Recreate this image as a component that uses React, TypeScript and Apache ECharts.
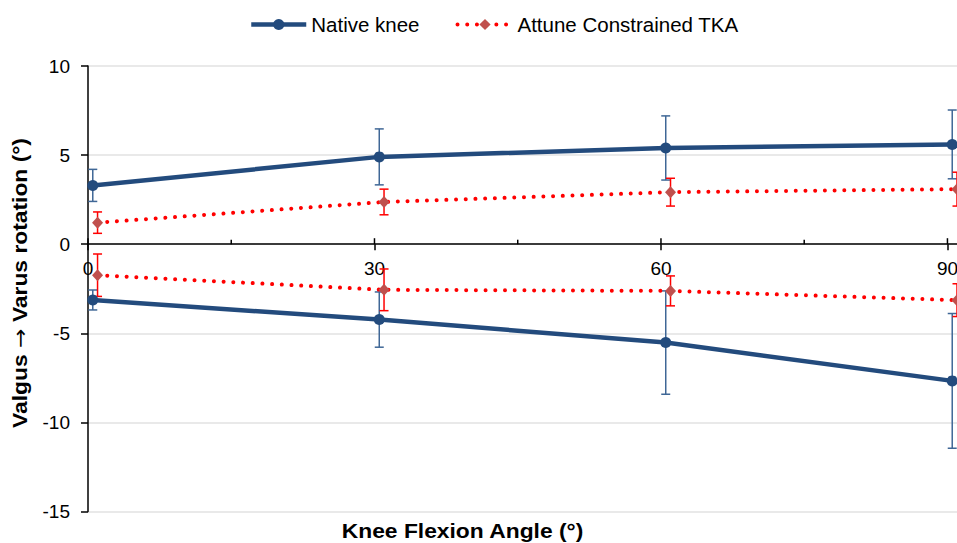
import React, { useEffect, useRef } from "react";
import * as echarts from "echarts";

// ---- data ----
const flexionLabels = [0, 30, 60, 90];
const xTickMarks = [0, 15, 30, 45, 60, 75, 90];
const majorTicks = [0, 30, 60, 90];

const nativeX = [0.5, 30.5, 60.5, 90.5];
const nativeVarus = [3.3, 4.9, 5.4, 5.6];
const nativeVarusSD = [0.9, 1.57, 1.8, 1.93];
const nativeValgus = [-3.13, -4.23, -5.52, -7.67];
const nativeValgusSD = [0.56, 1.55, 2.9, 3.78];

const attuneX = [1, 31, 61, 91];
const attuneVarus = [1.21, 2.37, 2.92, 3.09];
const attuneVarusSD = [0.6, 0.72, 0.78, 0.95];
const attuneValgus = [-1.74, -2.56, -2.62, -3.14];
const attuneValgusSD = [1.19, 1.17, 0.84, 0.92];

const Y_MIN = -15;
const Y_MAX = 10;
const X_MAX = 91;

const NATIVE = "Native knee";
const ATTUNE = "Attune Constrained TKA";

const NAVY = "#234b7d";
const NAVY_ERR = "#3f6796";
const RED = "#ff0000";
const DIAMOND = "#c0504d";
const FONT = "'Liberation Sans', Arial, Helvetica, sans-serif";

const W = 957;
const H = 543;
const GRID_TOP = 66;
const GRID_BOTTOM = 31.5;

function pairs(xs: number[], ys: number[]) {
  return xs.map((x, i) => [x, ys[i]]);
}

function errorSeries(name: string, xs: number[], ys: number[], sds: number[], color: string) {
  return {
    type: "custom",
    name,
    z: 1,
    silent: true,
    clip: false,
    data: xs.map((x, i) => [x, ys[i], sds[i]]),
    encode: { x: 0, y: 1 },
    renderItem: (params: any, api: any) => {
      const x = api.value(0);
      const y = api.value(1);
      const sd = api.value(2);
      const top = api.coord([x, y + sd]);
      const bot = api.coord([x, y - sd]);
      const hw = 4.5;
      const style = { stroke: color, lineWidth: 1.5, fill: null };
      return {
        type: "group",
        children: [
          { type: "line", shape: { x1: top[0], y1: top[1], x2: bot[0], y2: bot[1] }, style },
          { type: "line", shape: { x1: top[0] - hw, y1: top[1], x2: top[0] + hw, y2: top[1] }, style },
          { type: "line", shape: { x1: bot[0] - hw, y1: bot[1], x2: bot[0] + hw, y2: bot[1] }, style },
        ],
      };
    },
  };
}

function nativeLine(data: number[][]) {
  return {
    name: NATIVE,
    type: "line",
    data,
    z: 3,
    clip: false,
    symbol: "circle",
    symbolSize: 11,
    itemStyle: { color: NAVY },
    lineStyle: { color: NAVY, width: 4.5 },
  };
}

function attuneLine(data: number[][]) {
  return {
    name: ATTUNE,
    type: "line",
    data,
    z: 3,
    clip: false,
    symbol: "diamond",
    symbolSize: [11, 12],
    itemStyle: { color: DIAMOND },
    lineStyle: { color: RED, width: 4, type: [0.01, 9.7], cap: "round" },
  };
}

export default function App() {
  const ref = useRef<HTMLDivElement>(null);

  useEffect(() => {
    if (!ref.current) return;
    const chart = echarts.init(ref.current, null, { renderer: "svg" });
    const gridH = H - GRID_TOP - GRID_BOTTOM;
    const zeroOffset = -(gridH * (0 - Y_MIN)) / (Y_MAX - Y_MIN);
    const option: any = {
      animation: false,
      backgroundColor: "#ffffff",
      textStyle: { fontFamily: FONT },
      grid: {
        left: 88,
        right: 0,
        top: GRID_TOP,
        bottom: GRID_BOTTOM,
        containLabel: false,
        outerBoundsMode: "none",
      },
      legend: {
        data: [NATIVE, ATTUNE],
        left: 249,
        top: 14,
        padding: 0,
        itemWidth: 55,
        itemHeight: 14,
        itemGap: 36,
        lineStyle: { width: "inherit" },
        textStyle: { fontSize: 20.5, color: "#000", fontFamily: FONT },
        selectedMode: false,
      },
      xAxis: {
        type: "value",
        min: 0,
        max: X_MAX,
        interval: 30,
        position: "bottom",
        offset: zeroOffset,
        axisLine: { show: true, onZero: false, lineStyle: { color: "#000", width: 1.5 } },
        axisTick: {
          show: true,
          customValues: majorTicks,
          inside: false,
          length: 6,
          lineStyle: { color: "#000", width: 1.5 },
        },
        axisLabel: {
          customValues: flexionLabels,
          fontSize: 19,
          color: "#000",
          margin: 15,
          fontFamily: FONT,
        },
        splitLine: { show: false },
      },
      yAxis: {
        type: "value",
        min: Y_MIN,
        max: Y_MAX,
        interval: 5,
        axisLine: { show: true, onZero: false, lineStyle: { color: "#000", width: 1.5 } },
        axisTick: { show: true, length: 7, lineStyle: { color: "#000", width: 1.5 } },
        axisLabel: { fontSize: 19, color: "#000", margin: 18, fontFamily: FONT },
        splitLine: { show: true, lineStyle: { color: "#e2e2e2", width: 1.5 } },
      },
      graphic: [
        {
          type: "text",
          x: 20,
          y: 283,
          rotation: Math.PI / 2,
          scaleX: 1.17,
          style: {
            text: "{a|Valgus }{b|\u2192}{a| Varus rotation (\u00b0)}",
            rich: {
              a: { fontSize: 19.5, fontWeight: "bold", fontFamily: FONT, fill: "#000" },
              b: { fontSize: 20, fontWeight: "normal", fontFamily: "'DejaVu Sans', sans-serif", fill: "#000" },
            },
            fontSize: 19.5,
            fontWeight: "bold",
            fontFamily: FONT,
            fill: "#000",
            align: "center",
            verticalAlign: "middle",
          },
        },
        {
          type: "text",
          x: 462.5,
          y: 531.5,
          scaleX: 1.17,
          style: {
            text: "Knee Flexion Angle (\u00b0)",
            fontSize: 19.5,
            fontWeight: "bold",
            fontFamily: FONT,
            fill: "#000",
            align: "center",
            verticalAlign: "middle",
          },
        },
      ],
      series: [
        {
          type: "custom",
          name: "xTicksInside",
          silent: true,
          z: 4,
          clip: false,
          data: xTickMarks.map((v) => [v, 0]),
          encode: { x: 0, y: 1 },
          renderItem: (params: any, api: any) => {
            const v = api.value(0);
            const p = api.coord([v, 0]);
            const len = majorTicks.indexOf(v) >= 0 ? 6 : 4.5;
            return {
              type: "line",
              shape: { x1: p[0], y1: p[1], x2: p[0], y2: p[1] - len },
              style: { stroke: "#000", lineWidth: 1.5 },
            };
          },
        },
        errorSeries("Native varus SD", nativeX, nativeVarus, nativeVarusSD, NAVY_ERR),
        errorSeries("Native valgus SD", nativeX, nativeValgus, nativeValgusSD, NAVY_ERR),
        errorSeries("Attune varus SD", attuneX, attuneVarus, attuneVarusSD, RED),
        errorSeries("Attune valgus SD", attuneX, attuneValgus, attuneValgusSD, RED),
        nativeLine(pairs(nativeX, nativeVarus)),
        nativeLine(pairs(nativeX, nativeValgus)),
        attuneLine(pairs(attuneX, attuneVarus)),
        attuneLine(pairs(attuneX, attuneValgus)),
      ],
    };
    chart.setOption(option);
    return () => chart.dispose();
  }, []);

  return (
    <div
      ref={ref}
      style={{ position: "fixed", left: 0, top: 0, width: W, height: H, background: "#fff" }}
    />
  );
}
